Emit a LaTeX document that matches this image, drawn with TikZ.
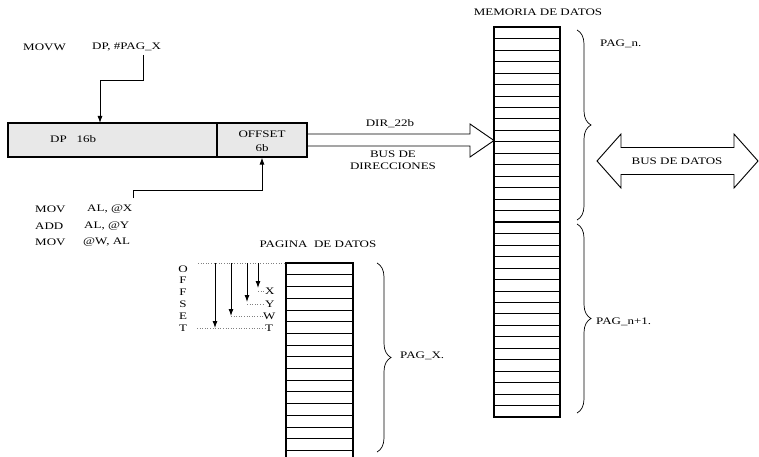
\documentclass[tikz,border=0pt]{standalone}
\usepackage{fontspec}
\setmainfont[FakeStretch=1.3]{Liberation Serif}
\usetikzlibrary{arrows.meta,decorations.pathreplacing}

\begin{document}
\begin{tikzpicture}[x=1pt,y=-1pt,
    font=\fontsize{10}{11.5}\selectfont,
    txt/.style={inner sep=0pt,anchor=west},
    arr/.style={-{Latex[length=7pt,width=5pt]},line width=0.9pt},
    reg/.style={draw,line width=1.1pt,fill=gray!18,inner sep=0pt},
    row/.style={line width=0.6pt},
    llave/.style={decorate,decoration={brace,amplitude=14pt},line width=0.7pt},
    bus/.style={line width=0.9pt},
    pts/.style={dotted,line width=0.6pt,gray}]
   \useasboundingbox (0,0) rectangle (759,457);

   % registro DP + OFFSET
   \node[reg,minimum width=209pt,minimum height=34pt] (dp) at (112.5,140) {};
   \node[reg,minimum width=90pt,minimum height=34pt] (off) at (262,140) {};
   \node[txt] (dptxt) at (50,139) {DP~~~16b};
   \node[inner sep=0pt,align=center] (offtxt) at (262,141) {OFFSET\\[2pt]6b};

   % instrucciones
   \node[txt] (movw) at (23,47) {MOVW};
   \node[txt] (movwop) at (92,47) {DP, \#PAG\_X};
   \node[txt] (mov1) at (35,209) {MOV};
   \node[txt] (mov1op) at (87,209) {AL, @X};
   \node[txt] (add) at (35,226) {ADD};
   \node[txt] (addop) at (84,226) {AL, @Y};
   \node[txt] (mov2) at (35,242) {MOV};
   \node[txt] (mov2op) at (83,242) {@W, AL};

   \coordinate (pagx) at (143,55);
   \coordinate (dpin) at (100,123);
   \draw[arr] (pagx) |- (100,80) -- (dpin);
   \coordinate (movx) at (133,198);
   \draw[arr] (movx) -- (133,190) -| (off.south);

   % bus de direcciones
   \draw[bus] (307,134) -- (470,134) -- (470,124) -- (494,140.5) -- (470,157) -- (470,146) -- (307,146);
   \node (dir) at (390,124) {DIR\_22b};
   \node[align=center,inner sep=0pt] (busdir) at (393,160) {BUS DE\\DIRECCIONES};

   % memoria de datos
   \node (mem) at (538,12) {MEMORIA DE DATOS};
   \draw[line width=1.3pt] (494,27) rectangle (560,417);
   \foreach \i in {1,...,16} {
      \draw[row] (494,{27+\i*195/17}) -- (560,{27+\i*195/17});
      \draw[row] (494,{222+\i*195/17}) -- (560,{222+\i*195/17});
   }
   \draw[line width=1.3pt] (494,222) -- (560,222);
   \draw[llave] (577,30) -- (577,220);
   \draw[llave] (577,224) -- (577,413);
   \node[txt] (pagn) at (600,44) {PAG\_n.};
   \node[txt] (pagn1) at (596,322) {PAG\_n+1.};

   % bus de datos
   \draw[bus] (597,161) -- (621,134) -- (621,147.5) -- (734,147.5) -- (734,134) -- (758,161)
      -- (734,188) -- (734,174.5) -- (621,174.5) -- (621,188) -- cycle;
   \node (busdat) at (677,161) {BUS DE DATOS};

   % pagina de datos
   \node (pagtit) at (318,244) {PAGINA~~DE DATOS};
   \draw[line width=1.3pt] (286,465) -- (286,263) -- (353,263) -- (353,465);
   \foreach \i in {1,...,17}
      \draw[row] (286,{263+\i*11.7}) -- (353,{263+\i*11.7});
   \draw[llave] (377,263) -- (377,452);
   \node[txt] (pagX) at (400,356) {PAG\_X.};

   \foreach \l [count=\i] in {O,F,F,S,E,T}
      \node[inner sep=0pt] (of\i) at (183,{257+11.8*\i}) {\l};
   \draw[pts] (198,263) -- (286,263);

   \node[txt] (lx) at (265,291) {X};
   \node[txt] (ly) at (265,304) {Y};
   \node[txt] (lw) at (263,316) {W};
   \node[txt] (lt) at (265,328) {T};
   \draw[arr] (258,263) -- (258,288);
   \draw[arr] (247,263) -- (247,302);
   \draw[arr] (231,263) -- (231,316);
   \draw[arr] (215,263) -- (215,328);
   \draw[pts] (258,291) -- (lx.west);
   \draw[pts] (247,304) -- (ly.west);
   \draw[pts] (231,316) -- (lw.west);
   \draw[pts] (197,328) -- (lt.west);

\end{tikzpicture}
\end{document}
